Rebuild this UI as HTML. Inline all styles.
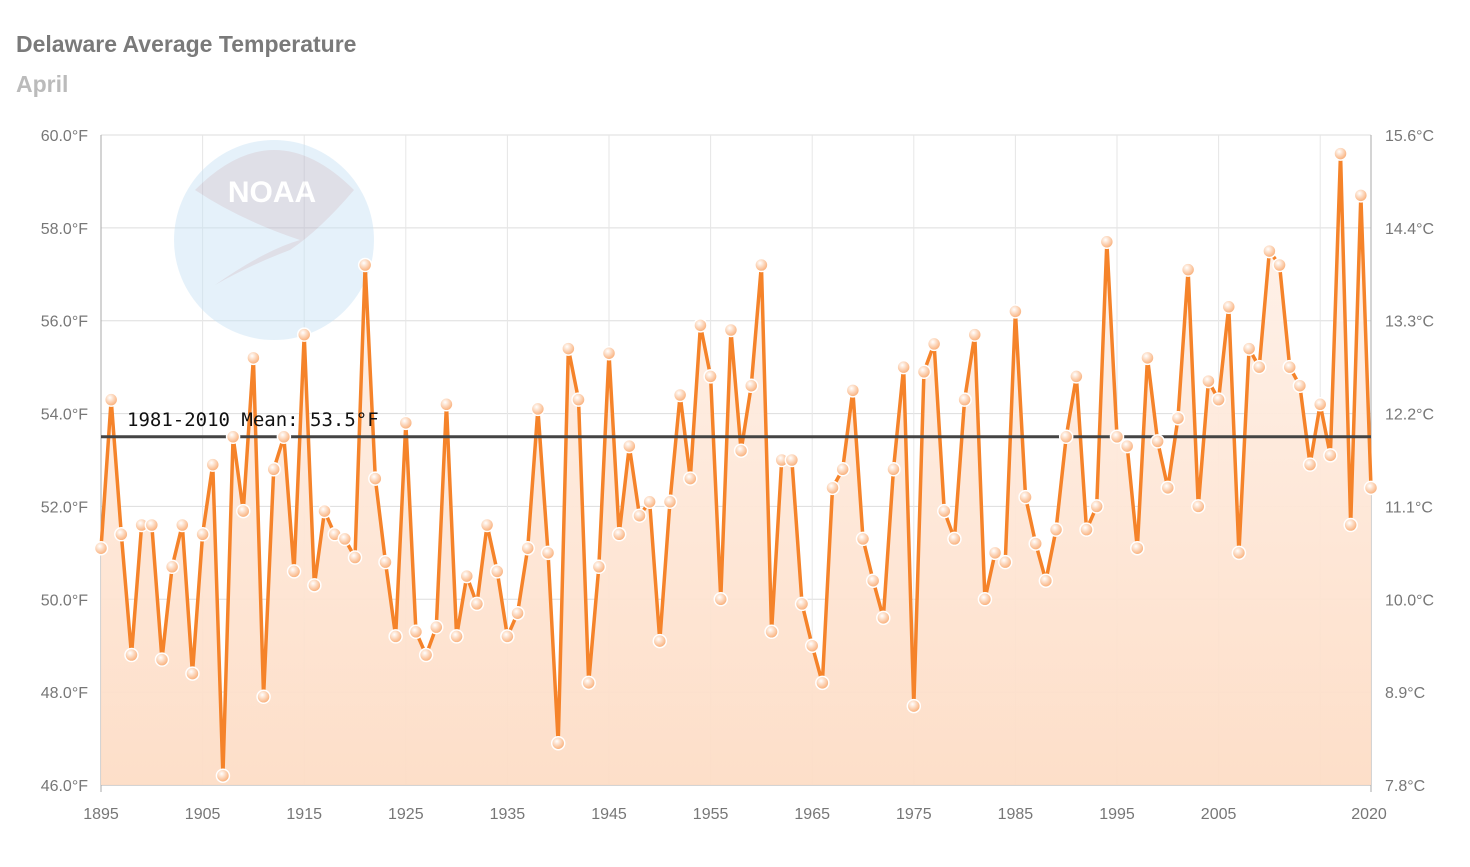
<!DOCTYPE html>
<html><head><meta charset="utf-8"><style>
body{margin:0;background:#fff;}
svg text{font-family:"Liberation Sans",sans-serif;}
</style></head><body>
<svg id="c" width="1470" height="862" xmlns="http://www.w3.org/2000/svg"></svg>
<script>
const d=[51.1,54.3,51.4,48.8,51.6,51.6,48.7,50.7,51.6,48.4,51.4,52.9,46.2,53.5,51.9,55.2,47.9,52.8,53.5,50.6,55.7,50.3,51.9,51.4,51.3,50.9,57.2,52.6,50.8,49.2,53.8,49.3,48.8,49.4,54.2,49.2,50.5,49.9,51.6,50.6,49.2,49.7,51.1,54.1,51.0,46.9,55.4,54.3,48.2,50.7,55.3,51.4,53.3,51.8,52.1,49.1,52.1,54.4,52.6,55.9,54.8,50.0,55.8,53.2,54.6,57.2,49.3,53.0,53.0,49.9,49.0,48.2,52.4,52.8,54.5,51.3,50.4,49.6,52.8,55.0,47.7,54.9,55.5,51.9,51.3,54.3,55.7,50.0,51.0,50.8,56.2,52.2,51.2,50.4,51.5,53.5,54.8,51.5,52.0,57.7,53.5,53.3,51.1,55.2,53.4,52.4,53.9,57.1,52.0,54.7,54.3,56.3,51.0,55.4,55.0,57.5,57.2,55.0,54.6,52.9,54.2,53.1,59.6,51.6,58.7,52.4];
const X=y=>101+(y-1895)*1270/125, Y=v=>135+(60-v)*650/14;
let s=`<defs><linearGradient id="f" x1="0" y1="0" x2="0" y2="1"><stop offset="0" stop-color="#fff3ec"/><stop offset="1" stop-color="#fdddc6"/></linearGradient>
<radialGradient id="m" cx="0.4" cy="0.35" r="0.7"><stop offset="0" stop-color="#fff"/><stop offset="1" stop-color="#f9a66a"/></radialGradient></defs>
<text x="16" y="52" font-size="23" font-weight="bold" fill="#7a7a7a">Delaware Average Temperature</text>
<text x="16" y="92" font-size="23" font-weight="bold" fill="#bbb">April</text>`;
for(let v=46;v<=60;v+=2){s+=`<line x1="101" x2="1371" y1="${Y(v)}" y2="${Y(v)}" stroke="#ddd"/>`;
s+=`<text x="88" y="${Y(v)+6}" font-size="16" fill="#777" text-anchor="end">${v.toFixed(1)}°F</text>`;
const c=((v-32)*5/9).toFixed(1);s+=`<text x="1385" y="${Y(v)+6}" font-size="16" fill="#777">${c}°C</text>`;}
for(let y=1895;y<=2015;y+=10){s+=`<line x1="${X(y)}" x2="${X(y)}" y1="135" y2="785" stroke="#e6e6e6"/>`;if(y<2015)s+=`<text x="${X(y)}" y="819" font-size="16" fill="#777" text-anchor="middle">${y}</text>`;}
s+=`<text x="1369" y="819" font-size="16" fill="#777" text-anchor="middle">2020</text>`;
s+=`<line x1="101" x2="101" y1="135" y2="792" stroke="#aaa"/><line x1="1371" x2="1371" y1="135" y2="792" stroke="#aaa"/><line x1="101" x2="1371" y1="785" y2="785" stroke="#aaa"/>`;
s+=`<g opacity="0.45"><circle cx="274" cy="240" r="100" fill="#c6e2f5"/><path d="M195 190 Q274 110 354 190 Q320 230 290 250 Q250 265 215 285 Q265 250 300 240 Q240 220 195 190Z" fill="#b9b9cc"/><text x="272" y="202" font-size="30" font-weight="bold" fill="#fff" text-anchor="middle">NOAA</text></g>`;
let p=d.map((v,i)=>`${X(1895+i)},${Y(v)}`).join(' ');
s+=`<polygon points="101,785 ${p} 1371,785" fill="url(#f)" opacity="0.95"/>`;
s+=`<polyline points="${p}" fill="none" stroke="#f5832a" stroke-width="3.5" stroke-linejoin="round"/>`;
s+=`<line x1="101" x2="1371" y1="${Y(53.5)}" y2="${Y(53.5)}" stroke="#444" stroke-width="3"/>`;
s+=`<text x="127" y="426" font-size="19" fill="#111" style="font-family:'DejaVu Sans Mono',monospace">1981-2010 Mean: 53.5°F</text>`;
d.forEach((v,i)=>{s+=`<circle cx="${X(1895+i)}" cy="${Y(v)}" r="6.5" fill="url(#m)" stroke="#fff" stroke-width="1.5"/>`;});
document.getElementById('c').innerHTML=s;
</script>
</body></html>
